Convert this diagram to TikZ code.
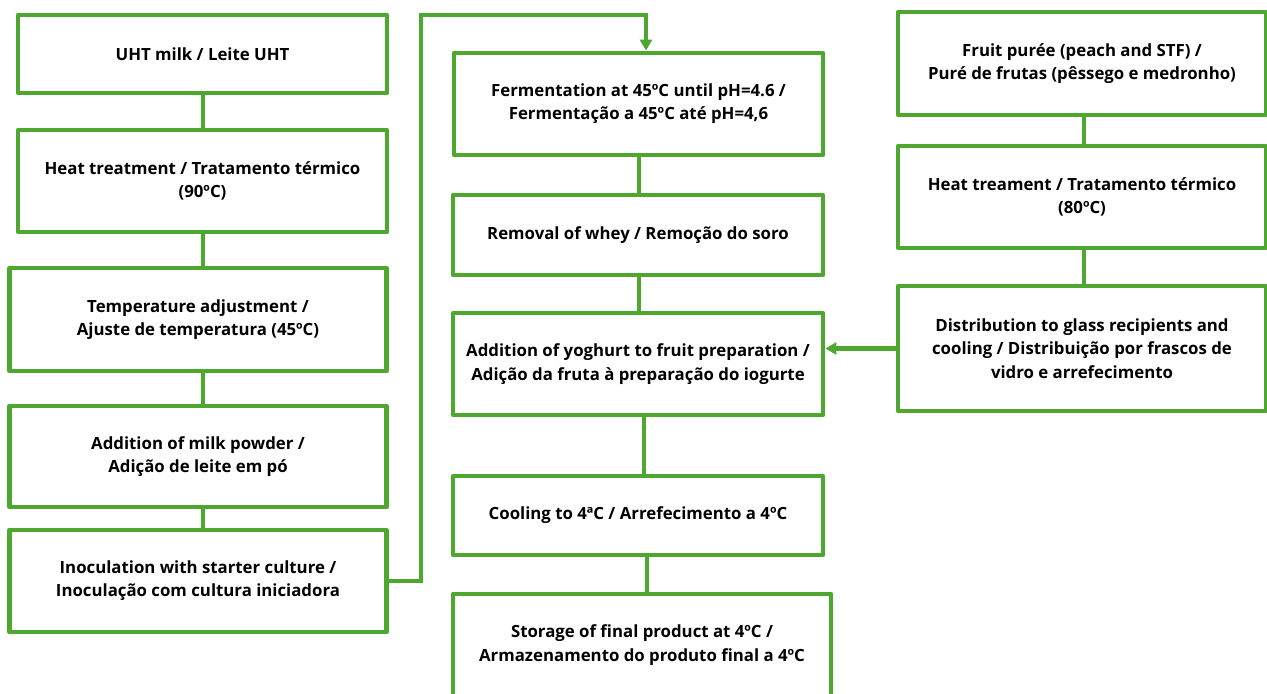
\documentclass[tikz,border=0pt]{standalone}
\usepackage{fontspec}
\setmainfont{Open Sans}
\usetikzlibrary{arrows.meta,calc}
\definecolor{grn}{HTML}{4EA72E}
\tikzset{
  box/.style={draw=grn, line width=2.4pt, line join=round, fill=white, align=center,
    inner sep=0pt, font=\bfseries\fontsize{8.4pt}{11.6pt}\selectfont, text=black},
  conn/.style={draw=grn, line width=2.1pt},
  arr/.style={conn, -{Triangle[length=5.5pt,width=6pt]}}
}
\begin{document}
\begin{tikzpicture}[x=0.5pt,y=-0.5pt]
\useasboundingbox (0,0) rectangle (1267,693);
% left column
\node[box, minimum width=369*0.5pt, minimum height=78*0.5pt] (A) at (202.5,54) {UHT milk / Leite UHT};
\node[box, minimum width=369*0.5pt, minimum height=102*0.5pt] (B) at (202.5,181) {Heat treatment / Tratamento térmico\\(90ºC)};
\node[box, minimum width=377*0.5pt, minimum height=103*0.5pt] (C) at (198,319.5) {Temperature adjustment /\\Ajuste de temperatura (45ºC)};
\node[box, minimum width=377*0.5pt, minimum height=101*0.5pt] (D) at (198,456.5) {Addition of milk powder /\\Adição de leite em pó};
\node[box, minimum width=377*0.5pt, minimum height=102*0.5pt] (E) at (198,581) {Inoculation with starter culture /\\Inoculação com cultura iniciadora};
% middle column
\node[box, minimum width=369*0.5pt, minimum height=102*0.5pt] (F) at (638.5,104) {Fermentation at 45ºC until pH=4.6 /\\Fermentação a 45ºC até pH=4,6};
\node[box, minimum width=370*0.5pt, minimum height=80*0.5pt] (G) at (638,235) {Removal of whey / Remoção do soro};
\node[box, minimum width=370*0.5pt, minimum height=102*0.5pt] (H) at (638,364) {Addition of yoghurt to fruit preparation /\\Adição da fruta à preparação do iogurte};
\node[box, minimum width=370*0.5pt, minimum height=79*0.5pt] (I) at (638,515.5) {Cooling to 4ªC / Arrefecimento a 4ºC};
\node[box, minimum width=378*0.5pt, minimum height=102*0.5pt] (J) at (642,645) {Storage of final product at 4ºC /\\Armazenamento do produto final a 4ºC};
% right column
\node[box, minimum width=368*0.5pt, minimum height=103*0.5pt] (K) at (1082,63.5) {Fruit purée (peach and STF) /\\Puré de frutas (pêssego e medronho)};
\node[box, minimum width=368*0.5pt, minimum height=102*0.5pt] (L) at (1082,197) {Heat treament / Tratamento térmico\\(80ºC)};
\node[box, minimum width=368*0.5pt, minimum height=125*0.5pt] (M) at (1082,348.5) {Distribution to glass recipients and\\cooling / Distribuição por frascos de\\vidro e arrefecimento};
% connectors
\coordinate (cx) at (203,0);
\draw[conn] (A.south -| cx) -- (B.north -| cx);
\draw[conn] (B.south -| cx) -- (C.north -| cx);
\draw[conn] (C.south -| cx) -- (D.north -| cx);
\draw[conn] (D.south -| cx) -- (E.north -| cx);
\coordinate (loopT) at (421,15);
\coordinate (fx) at (646,0);
\draw[arr] (E.east) -| (loopT) -| (F.north -| fx);
\coordinate (mx1) at (639,0);
\draw[conn] (F.south -| mx1) -- (G.north -| mx1);
\draw[conn] (G.south -| mx1) -- (H.north -| mx1);
\coordinate (mx2) at (644,0);
\draw[conn] (H.south -| mx2) -- (I.north -| mx2);
\coordinate (mx3) at (647,0);
\draw[conn] (I.south -| mx3) -- (J.north -| mx3);
\coordinate (rx) at (1084,0);
\draw[conn] (K.south -| rx) -- (L.north -| rx);
\draw[conn] (L.south -| rx) -- (M.north -| rx);
\draw[arr] (M.west) -- (M.west -| H.east);
\end{tikzpicture}
\end{document}
